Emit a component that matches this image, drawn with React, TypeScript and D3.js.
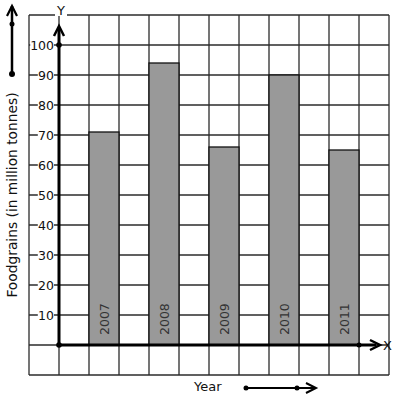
import React from "react";
import * as d3 from "d3";

const years = ["2007", "2008", "2009", "2010", "2011"];
const production = [71, 94, 66, 90, 65];
const yTicks = [10, 20, 30, 40, 50, 60, 70, 80, 90, 100];

const W = 397;
const H = 401;
const FONT = "DejaVu Sans, sans-serif";

export default function App() {
  // grid is 12 columns x 12 rows of 30px cells
  const x = d3.scaleLinear().domain([0, 12]).range([29, 389]);
  const y = d3.scaleLinear().domain([-10, 110]).range([375, 15]);
  const cols = d3.range(0, 13);
  const rows = d3.range(-10, 111, 10);
  const x0 = x(1);
  const y0 = y(0);

  return (
    <svg width={W} height={H} style={{ position: "absolute", left: 0, top: 0, background: "#fff" }}>
      <rect width={W} height={H} fill="#fff" />
      {/* grid */}
      <g stroke="#2b2b2b" strokeWidth={1.3}>
        {cols.map((c) => (
          <line key={"c" + c} x1={x(c)} x2={x(c)} y1={y(110)} y2={y(-10)} />
        ))}
        {rows.map((r) => (
          <line key={"r" + r} x1={x(0)} x2={x(12)} y1={y(r)} y2={y(r)} />
        ))}
      </g>
      {/* bars */}
      {years.map((yr, i) => {
        const bx = x(2 + i * 2);
        const bw = x(3 + i * 2) - bx;
        return (
          <g key={yr}>
            <rect x={bx} y={y(production[i])} width={bw} height={y0 - y(production[i])}
              fill="#999" stroke="#111" strokeWidth={1.3} />
            <text transform={`translate(${bx + bw / 2 + 4.5},${y0 - 10}) rotate(-90)`}
              fontFamily={FONT} fontSize={12.5} fill="#333">{yr}</text>
          </g>
        );
      })}
      {/* y tick labels */}
      {yTicks.map((t) => {
        const s = String(t);
        const tw = s.length * 7.6;
        return (
          <g key={t}>
            <rect x={54 - tw - 1} y={y(t) - 7} width={tw + 1} height={14} fill="#fff" />
            <text x={54} y={y(t) + 4.5} textAnchor="end" fontFamily={FONT} fontSize={12.5} fill="#111">{s}</text>
          </g>
        );
      })}
      {/* axes */}
      <line x1={x0} x2={x0} y1={y0} y2={27} stroke="#000" strokeWidth={3} />
      <path d={`M${x0 - 5},${36} L${x0},${26} L${x0 + 5},${36}`} fill="none" stroke="#000" strokeWidth={2.5} />
      <line x1={x0} x2={376} y1={y0} y2={y0} stroke="#000" strokeWidth={3} />
      <path d={`M${370},${y0 - 5} L${380},${y0} L${370},${y0 + 5}`} fill="none" stroke="#000" strokeWidth={2.5} />
      <circle cx={x0} cy={y(100)} r={2.8} fill="#000" />
      <circle cx={x0} cy={y0} r={2.8} fill="#000" />
      <circle cx={x(11)} cy={y0} r={2.5} fill="#000" />
      <rect x={55} y={2} width={12} height={14} fill="#fff" />
      <text x={61} y={15} textAnchor="middle" fontFamily={FONT} fontSize={13} fill="#111">Y</text>
      <text x={383} y={350} fontFamily={FONT} fontSize={13} fill="#111">X</text>
      {/* y axis title with arrow */}
      <line x1={12} x2={12} y1={74} y2={6} stroke="#000" strokeWidth={2.5} />
      <path d={`M7,16 L12,6 L17,16`} fill="none" stroke="#000" strokeWidth={2.2} />
      <circle cx={12} cy={24} r={2.5} fill="#000" />
      <circle cx={12} cy={74} r={3} fill="#000" />
      <text transform="translate(17,195) rotate(-90)" textAnchor="middle" fontFamily={FONT} fontSize={13.8} fill="#111">
        Foodgrains (in million tonnes)
      </text>
      {/* x axis title with arrow */}
      <text x={194} y={391} fontFamily={FONT} fontSize={13} fill="#111">Year</text>
      <line x1={246} x2={315} y1={388} y2={388} stroke="#000" strokeWidth={2.2} />
      <path d={`M306,383 L316,388 L306,393`} fill="none" stroke="#000" strokeWidth={2} />
      <circle cx={246} cy={388} r={2.5} fill="#000" />
      <circle cx={297} cy={388} r={2.5} fill="#000" />
    </svg>
  );
}
